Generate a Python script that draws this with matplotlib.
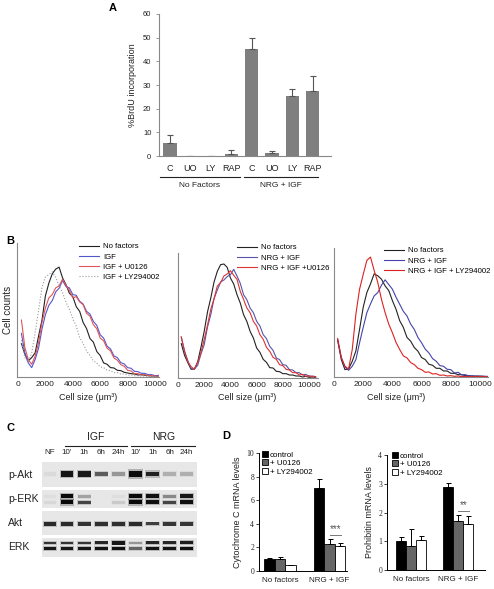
import numpy as np
import matplotlib
matplotlib.use("Agg")
import matplotlib.pyplot as plt
from matplotlib.transforms import blended_transform_factory

plt.rcParams['font.family'] = ['Liberation Sans', 'DejaVu Sans']

# ---------------- data ----------------
# A: BrdU incorporation
brdu_labels = ["C", "UO", "LY", "RAP", "C", "UO", "LY", "RAP"]
brdu_vals = [5.3, 0.2, 0.1, 1.0, 45.3, 1.2, 25.2, 27.5]
brdu_err = [3.4, 0.0, 0.0, 1.4, 4.7, 0.8, 3.0, 6.1]
brdu_groups = ["No Factors", "NRG + IGF"]

# B: cell size distributions (cell counts, arbitrary units)
sizes = [250, 500, 750, 1000, 1250, 1500, 1750, 2000, 2250, 2500, 2750,
         3000, 3250, 3500, 3750, 4000, 4250, 4500, 4750, 5000, 5250, 5500,
         5750, 6000, 6250, 6500, 6750, 7000, 7250, 7500, 7750, 8000, 8250,
         8500, 8750, 9000, 9250, 9500, 9750, 10000, 10250, 10500]

b1_nf = [100, 68, 48, 58, 72, 122, 170, 242, 280, 308, 322, 328, 296, 276,
         250, 240, 210, 196, 163, 145, 115, 104, 76, 64, 42, 38, 28, 27, 20,
         19, 14, 12, 10, 9, 6, 7, 5, 4, 3, 3, 2, 2]
b1_igf = [130, 72, 42, 28, 52, 86, 143, 186, 214, 228, 254, 265, 288, 270,
          266, 246, 244, 226, 218, 196, 188, 166, 154, 126, 116, 92, 84, 63,
          58, 43, 39, 28, 26, 17, 16, 11, 11, 7, 7, 4, 5, 3]
b1_u0126 = [170, 88, 52, 38, 62, 102, 163, 206, 236, 246, 266, 272, 292,
            274, 258, 236, 240, 224, 216, 190, 182, 156, 144, 116, 108, 86,
            78, 57, 50, 37, 32, 20, 18, 10, 10, 6, 7, 4, 5, 2, 3, 2]
b1_ly = [110, 58, 46, 72, 132, 198, 268, 298, 306, 314, 298, 272, 252, 224,
         202, 174, 152, 118, 100, 78, 64, 48, 42, 30, 28, 20, 19, 13, 13, 9,
         9, 6, 6, 4, 4, 3, 3, 2, 2, 2, 1, 1]

b2_nf = [103, 68, 46, 26, 27, 48, 92, 140, 198, 240, 288, 320, 340, 342,
         332, 300, 282, 250, 225, 190, 170, 140, 120, 90, 77, 56, 47, 31, 30,
         20, 19, 13, 13, 9, 9, 6, 6, 3, 5, 2, 3, 2]
b2_igf = [123, 78, 52, 28, 27, 38, 72, 100, 153, 190, 238, 264, 288, 294,
          304, 310, 326, 306, 284, 250, 235, 210, 196, 170, 156, 130, 118, 95,
          83, 60, 55, 40, 38, 25, 24, 16, 16, 9, 11, 5, 6, 4]
b2_u0126 = [123, 82, 48, 34, 26, 47, 76, 116, 158, 206, 238, 276, 286, 306,
            312, 322, 308, 296, 260, 236, 210, 196, 170, 156, 130, 116, 92,
            80, 62, 56, 40, 37, 26, 24, 16, 16, 9, 11, 5, 7, 3, 4]

b3_nf = [110, 52, 22, 24, 47, 78, 142, 208, 252, 278, 308, 302, 292, 272,
         258, 228, 202, 168, 148, 118, 107, 88, 77, 58, 52, 38, 35, 26, 26,
         18, 18, 11, 11, 7, 7, 4, 4, 2, 3, 2, 2, 1]
b3_igf = [110, 58, 30, 20, 32, 52, 102, 148, 192, 218, 242, 252, 274, 290,
          276, 262, 238, 217, 196, 182, 158, 142, 118, 102, 83, 72, 55, 47,
          34, 32, 23, 22, 12, 14, 6, 7, 3, 4, 2, 3, 2, 2]
b3_ly = [115, 58, 32, 24, 82, 188, 262, 306, 348, 358, 318, 282, 232, 192,
         158, 132, 103, 82, 63, 57, 43, 37, 26, 22, 14, 15, 9, 10, 5, 6, 3,
         4, 2, 3, 1, 2, 1, 1, 1, 1, 1, 1]

# C: western blot band intensities (0..1) per lane
lanes = ["NF", "10'", "1h", "6h", "24h", "10'", "1h", "6h", "24h"]
p_akt = [0.04, 0.9, 0.88, 0.55, 0.3, 1.0, 0.82, 0.2, 0.2]
p_erk_up = [0.03, 1.0, 0.25, 0.0, 0.03, 1.0, 0.92, 0.35, 0.88]
p_erk_lo = [0.05, 1.0, 0.65, 0.0, 0.1, 1.0, 0.92, 0.65, 0.92]
akt = [0.78, 0.78, 0.74, 0.76, 0.76, 0.78, 0.68, 0.72, 0.72]
erk_up = [0.72, 0.74, 0.72, 0.8, 0.88, 0.3, 0.8, 0.8, 0.85]
erk_lo = [0.88, 0.88, 0.88, 0.9, 0.92, 0.5, 0.9, 0.9, 0.92]

# D: mRNA levels
d_groups = ["No factors", "NRG + IGF"]
d_series = ["control", "+ U0126", "+ LY294002"]
cytc_vals = [[1.0, 7.0], [1.0, 2.25], [0.55, 2.1]]
cytc_err = [[0.07, 0.8], [0.2, 0.45], [0.0, 0.3]]
prohib_vals = [[1.0, 2.9], [0.85, 1.72], [1.05, 1.6]]
prohib_err = [[0.15, 0.12], [0.58, 0.2], [0.13, 0.28]]

# ---------------- figure ----------------
W, H = 494, 589
fig = plt.figure(figsize=(W / 100, H / 100), dpi=100)


def px_axes(l, t, r, b):
    return fig.add_axes([l / W, 1 - b / H, (r - l) / W, (b - t) / H])


def ftext(x, y, s, **kw):
    fig.text(x / W, 1 - y / H, s, **kw)


spine_col = '#888888'
txt_col = '#222222'

# ---------------- A ----------------
axA = px_axes(159, 14, 331, 156)
posA = np.arange(len(brdu_vals))
axA.bar(posA, brdu_vals, width=0.65, color='#7f7f7f',
        yerr=[np.zeros(len(brdu_err)), brdu_err],
        error_kw=dict(ecolor='#555555', capsize=2, elinewidth=0.8, capthick=0.8))
axA.set_xlim(-0.54, 7.9)
axA.set_ylim(0, 60)
axA.set_yticks(range(0, 61, 10))
axA.set_xticks(posA)
axA.set_xticklabels(brdu_labels)
axA.tick_params(axis='x', length=0, pad=6, labelsize=6.5, colors=txt_col)
axA.tick_params(axis='y', length=2, labelsize=5.5, colors=txt_col, color=spine_col, width=0.6)
for s in ['top', 'right']:
    axA.spines[s].set_visible(False)
for s in ['left', 'bottom']:
    axA.spines[s].set_color(spine_col)
    axA.spines[s].set_linewidth(0.8)
axA.set_ylabel("%BrdU incorporation", fontsize=6.5, color=txt_col, labelpad=4)
trA = blended_transform_factory(axA.transData, axA.transAxes)
for (x0, x1), name in zip([(-0.49, 3.43), (3.63, 7.25)], brdu_groups):
    axA.plot([x0, x1], [-0.148, -0.148], color='#222222', lw=0.8,
             transform=trA, clip_on=False)
    axA.text((x0 + x1) / 2, -0.21, name, transform=trA, ha='center', va='center',
             fontsize=6, color=txt_col)
ftext(113, 8, "A", fontsize=8, fontweight='bold', ha='center', va='center')

# ---------------- B ----------------
b_panels = [
    dict(box=(17, 243, 159, 377), xlim=(-73, 10290), ylim=(0, 400),
         curves=[(b1_nf, '#222222', '-', "No factors"),
                 (b1_igf, '#5555cc', '-', "IGF"),
                 (b1_u0126, '#e05555', '-', "IGF + U0126"),
                 (b1_ly, '#999999', ':', "IGF + LY294002")],
         leg=(79, 243), xlab=88),
    dict(box=(178, 253, 318, 378), xlim=(76, 10680), ylim=(0, 375),
         curves=[(b2_nf, '#222222', '-', "No factors"),
                 (b2_igf, '#5555aa', '-', "NRG + IGF"),
                 (b2_u0126, '#dd3333', '-', "NRG + IGF +U0126")],
         leg=(237, 244), xlab=247),
    dict(box=(334, 248, 488, 377), xlim=(0, 10548), ylim=(0, 385),
         curves=[(b3_nf, '#222222', '-', "No factors"),
                 (b3_igf, '#4444aa', '-', "NRG + IGF"),
                 (b3_ly, '#dd2222', '-', "NRG + IGF + LY294002")],
         leg=(384, 247), xlab=396),
]
for p in b_panels:
    ax = px_axes(*p['box'])
    for vals, col, ls, lab in p['curves']:
        ax.plot(sizes, vals, color=col, ls=ls, lw=0.8, label=lab)
    ax.set_xlim(*p['xlim'])
    ax.set_ylim(*p['ylim'])
    ax.set_yticks([])
    ax.set_xticks(range(0, 10001, 2000))
    ax.tick_params(axis='x', length=0, pad=3, labelsize=6, colors=txt_col)
    for s in ['top', 'right']:
        ax.spines[s].set_visible(False)
    for s in ['left', 'bottom']:
        ax.spines[s].set_color(spine_col)
        ax.spines[s].set_linewidth(0.8)
    lx, ly = p['leg']
    ax.legend(loc='upper left', bbox_to_anchor=(lx / W, 1 - ly / H),
              bbox_transform=fig.transFigure, frameon=False, fontsize=5.6,
              handlelength=2.6, handletextpad=0.5, labelspacing=0.35,
              borderpad=0, borderaxespad=0)
    ftext(p['xlab'], 397, "Cell size (μm³)", fontsize=6.5, ha='center',
          va='center', color=txt_col)
ftext(8, 310, "Cell counts", fontsize=7, rotation=90, ha='center', va='center',
      color=txt_col)
ftext(10, 241, "B", fontsize=8, fontweight='bold', ha='center', va='center')

# ---------------- C ----------------
ftext(10, 428, "C", fontsize=8, fontweight='bold', ha='center', va='center')
blot_x = (42, 197)
rows = [
    ("p-Akt", (462, 487), [(p_akt, 0.52, 0.17, 0.7)]),
    ("p-ERK", (490, 508), [(p_erk_up, 0.65, 0.2, 0.35), (p_erk_lo, 0.32, 0.2, 0.35)]),
    ("Akt", (511, 535), [(akt, 0.46, 0.14, 0.3)]),
    ("ERK", (538, 557), [(erk_up, 0.74, 0.16, 0.3), (erk_lo, 0.46, 0.17, 0.3)]),
]
lane_pos = np.arange(len(lanes))
for name, (t, b), bands in rows:
    ax = px_axes(blot_x[0], t, blot_x[1], b)
    ax.set_facecolor('#e7e7e7')
    ax.set_xlim(-0.47, 8.6)
    ax.set_ylim(0, 1)
    for inten, yc, th, grow in bands:
        inten = np.array(inten)
        hh = th * (0.85 + grow * inten ** 4)
        # soft halo + core
        for k in range(len(lane_pos)):
            if inten[k] <= 0:
                continue
            ax.bar(lane_pos[k], hh[k] * 1.6, bottom=yc - hh[k] * 0.8, width=0.84,
                   color='#111111', alpha=0.25 * inten[k], lw=0)
            ax.bar(lane_pos[k], hh[k], bottom=yc - hh[k] / 2, width=0.74,
                   color='#0a0a0a', alpha=min(1.0, 1.05 * inten[k]), lw=0)
    ax.set_xticks([])
    ax.set_yticks([])
    for s in ax.spines.values():
        s.set_visible(False)
    ftext(8, (t + b) / 2, name, fontsize=7.5, ha='left', va='center', color=txt_col)
    if name == "p-Akt":
        for i, lab in enumerate(lanes):
            ax.text(i, 1.0 + 9 / (b - t), lab, ha='center', va='center',
                    fontsize=5.8, color=txt_col, transform=ax.transData)
        tr = blended_transform_factory(ax.transData, ax.transAxes)
        for (x0, x1), gname in zip([(0.85, 4.5), (4.75, 8.5)], ["IGF", "NRG"]):
            ax.plot([x0, x1], [1 + 16 / (b - t)] * 2, color='#222222', lw=0.8,
                    transform=tr, clip_on=False)
            ax.text((x0 + x1) / 2, 1 + 25 / (b - t), gname, ha='center',
                    va='center', fontsize=7.5, color=txt_col, transform=tr)

# ---------------- D ----------------
ftext(226, 436, "D", fontsize=8, fontweight='bold', ha='center', va='center')
bar_cols = ['#000000', '#666666', '#ffffff']
d_panels = [
    dict(box=(259, 453, 347, 571), vals=cytc_vals, err=cytc_err, ymax=10,
         yticks=[0, 2, 4, 6, 8, 10], xlim=(-0.42, 1.35),
         ylabel="Cytochrome C mRNA levels", stars="***", star_y=3.04,
         leg=(262, 451)),
    dict(box=(387, 455, 485, 570), vals=prohib_vals, err=prohib_err, ymax=4,
         yticks=[0, 1, 2, 3, 4], xlim=(-0.51, 1.57),
         ylabel="Prohibitin mRNA levels", stars="**", star_y=2.05,
         leg=(392, 452)),
]
for p in d_panels:
    ax = px_axes(*p['box'])
    xg = np.arange(len(d_groups))
    bw = 0.21
    for i, (vals, errs) in enumerate(zip(p['vals'], p['err'])):
        ax.bar(xg + (i - 1) * bw, vals, width=bw, color=bar_cols[i],
               edgecolor='#000000', lw=0.6, label=d_series[i],
               yerr=[np.zeros(len(errs)), errs],
               error_kw=dict(ecolor='#000000', capsize=1.8, elinewidth=0.7,
                             capthick=0.7))
    ax.set_xlim(*p['xlim'])
    ax.set_ylim(0, p['ymax'])
    ax.set_yticks(p['yticks'])
    ax.set_xticks(xg)
    ax.set_xticklabels(d_groups)
    ax.tick_params(axis='x', length=0, pad=4, labelsize=5.8, colors=txt_col)
    ax.tick_params(axis='y', length=2, width=0.6, pad=1.5, labelsize=5.5,
                   colors=txt_col)
    for lab in ax.get_yticklabels():
        lab.set_family('Liberation Serif')
    for s in ['top', 'right']:
        ax.spines[s].set_visible(False)
    for s in ['left', 'bottom']:
        ax.spines[s].set_linewidth(0.7)
    ax.set_ylabel(p['ylabel'], fontsize=6.5, color=txt_col, labelpad=3)
    ax.plot([1.0, 1 + 1.1 * bw], [p['star_y'], p['star_y']], color='#777777', lw=0.7)
    ax.text(1 + 0.55 * bw, p['star_y'] + p['ymax'] * 0.01, p['stars'],
            ha='center', va='bottom', fontsize=7, color='#555555')
    lx, ly = p['leg']
    ax.legend(loc='upper left', bbox_to_anchor=(lx / W, 1 - ly / H),
              bbox_transform=fig.transFigure, frameon=False, fontsize=5.8,
              handlelength=0.7, handleheight=0.7, handletextpad=0.3,
              labelspacing=0.1, borderpad=0, borderaxespad=0)

fig.savefig("out.png", dpi=100, facecolor='white')
